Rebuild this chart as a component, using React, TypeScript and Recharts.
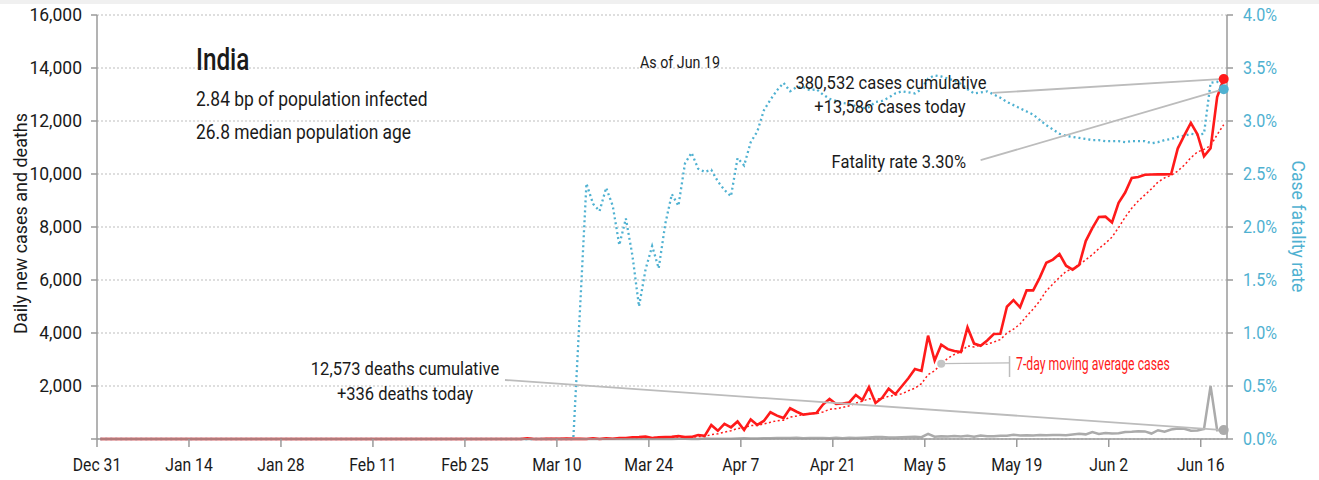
import React from 'react';
import {
  LineChart,
  Line,
  XAxis,
  YAxis,
  CartesianGrid,
  ReferenceLine,
  ReferenceDot,
} from 'recharts';

const FONT = "Roboto, 'Liberation Sans', sans-serif";

// x-axis tick labels (every 14 days starting Dec 31)
const tickLabels = ['Dec 31', 'Jan 14', 'Jan 28', 'Feb 11', 'Feb 25', 'Mar 10', 'Mar 24', 'Apr 7', 'Apr 21', 'May 5', 'May 19', 'Jun 2', 'Jun 16'];
const tickDays = [0, 14, 28, 42, 56, 70, 84, 98, 112, 126, 140, 154, 168];

const leftTicks = [0, 2000, 4000, 6000, 8000, 10000, 12000, 14000, 16000];
const rightTicks = [0, 0.5, 1, 1.5, 2, 2.5, 3, 3.5, 4];

// daily new cases, Dec 31 .. Jun 19
const cases = [
  0, 0, 0, 0, 0, 0, 0, 0, 0, 0,
  0, 0, 0, 0, 0, 0, 0, 0, 0, 0,
  0, 0, 0, 0, 0, 0, 0, 0, 0, 0,
  1, 0, 0, 1, 1, 0, 0, 0, 0, 0,
  0, 0, 0, 0, 0, 0, 0, 0, 0, 0,
  0, 0, 0, 0, 0, 0, 0, 0, 0, 0,
  0, 0, 1, 2, 1, 22, 2, 1, 3, 5,
  4, 13, 6, 11, 2, 26, 3, 23, 11, 39,
  40, 60, 70, 95, 40, 60, 70, 80, 115, 70,
  80, 150, 120, 530, 310, 570, 440, 660, 340, 740,
  530, 680, 1010, 880, 790, 1160, 1030, 920, 950, 980,
  1300, 1510, 1320, 1340, 1380, 1660, 1470, 1960, 1360, 1550,
  1900, 1690, 1990, 2290, 2640, 2570, 3900, 2960, 3560, 3390,
  3320, 3280, 4210, 3600, 3520, 3720, 3960, 3970, 4990, 5240,
  4970, 5610, 5610, 6090, 6650, 6770, 6980, 6540, 6390, 6570,
  7470, 7960, 8380, 8390, 8170, 8910, 9300, 9850, 9890, 9970,
  9980, 9990, 9985, 10000, 10960, 11460, 11930, 11500, 10670, 10970,
  12900, 13586,
];

// 7-day moving average of cases
const movingAvg = [
  0, 0, 0, 0, 0, 0, 0, 0, 0, 0,
  0, 0, 0, 0, 0, 0, 0, 0, 0, 0,
  0, 0, 0, 0, 0, 0, 0, 0, 0, 0,
  0, 0, 0, 0, 0, 0, 0, 0, 0, 0,
  0, 0, 0, 0, 0, 0, 0, 0, 0, 0,
  0, 0, 0, 0, 0, 0, 0, 0, 0, 0,
  0, 0, 0, 0, 1, 4, 4, 4, 4, 5,
  5, 7, 5, 6, 6, 9, 9, 12, 12, 16,
  21, 29, 35, 48, 51, 58, 62, 68, 76, 76,
  74, 89, 98, 164, 196, 261, 314, 397, 424, 513,
  513, 566, 629, 691, 710, 827, 869, 924, 963, 959,
  1019, 1121, 1144, 1189, 1254, 1356, 1426, 1520, 1499, 1531,
  1611, 1656, 1703, 1820, 1917, 2090, 2426, 2577, 2844, 3044,
  3191, 3283, 3517, 3474, 3554, 3577, 3659, 3751, 3996, 4143,
  4339, 4637, 4907, 5211, 5594, 5849, 6097, 6321, 6433, 6570,
  6767, 6954, 7184, 7386, 7619, 7979, 8369, 8709, 8984, 9211,
  9439, 9699, 9852, 9952, 10111, 10335, 10615, 10832, 10929, 11070,
  11484, 11859,
];

// daily new deaths
const deaths = [
  0, 0, 0, 0, 0, 0, 0, 0, 0, 0,
  0, 0, 0, 0, 0, 0, 0, 0, 0, 0,
  0, 0, 0, 0, 0, 0, 0, 0, 0, 0,
  0, 0, 0, 0, 0, 0, 0, 0, 0, 0,
  0, 0, 0, 0, 0, 0, 0, 0, 0, 0,
  0, 0, 0, 0, 0, 0, 0, 0, 0, 0,
  0, 0, 0, 0, 0, 0, 0, 0, 0, 0,
  0, 0, 0, 1, 1, 0, 0, 1, 0, 1,
  1, 3, 3, 1, 2, 3, 4, 4, 6, 5,
  3, 3, 18, 12, 12, 13, 9, 16, 28, 16,
  23, 31, 33, 40, 38, 34, 51, 28, 36, 38,
  38, 31, 50, 26, 48, 37, 46, 59, 72, 71,
  60, 57, 68, 78, 83, 68, 195, 89, 104, 96,
  115, 97, 122, 87, 134, 103, 100, 120, 120, 157,
  134, 140, 132, 148, 137, 147, 154, 146, 170, 194,
  175, 265, 193, 230, 204, 217, 260, 273, 294, 287,
  206, 331, 279, 357, 396, 386, 311, 325, 380, 2003,
  334, 336,
];

// case fatality rate, percent
const fatalityRate = [
  0, 0, 0, 0, 0, 0, 0, 0, 0, 0,
  0, 0, 0, 0, 0, 0, 0, 0, 0, 0,
  0, 0, 0, 0, 0, 0, 0, 0, 0, 0,
  0, 0, 0, 0, 0, 0, 0, 0, 0, 0,
  0, 0, 0, 0, 0, 0, 0, 0, 0, 0,
  0, 0, 0, 0, 0, 0, 0, 0, 0, 0,
  0, 0, 0, 0, 0, 0, 0, 0, 0, 0,
  0, 0, 0, 1.2, 2.41, 2.22, 2.15, 2.37, 2.2, 1.83,
  2.08, 1.73, 1.25, 1.6, 1.82, 1.61, 2.03, 2.31, 2.2, 2.6,
  2.7, 2.55, 2.52, 2.54, 2.43, 2.35, 2.29, 2.65, 2.58, 2.8,
  2.9, 3.1, 3.2, 3.29, 3.36, 3.28, 3.32, 3.32, 3.29, 3.3,
  3.25, 3.21, 3.19, 3.17, 3.16, 3.14, 3.12, 3.13, 3.18, 3.19,
  3.22, 3.26, 3.28, 3.27, 3.26, 3.3, 3.4, 3.43, 3.42, 3.4,
  3.38, 3.35, 3.3, 3.26, 3.27, 3.28, 3.25, 3.22, 3.18, 3.15,
  3.12, 3.09, 3.06, 3.01, 2.96, 2.92, 2.88, 2.86, 2.85, 2.84,
  2.83, 2.82, 2.82, 2.81, 2.81, 2.81, 2.8, 2.81, 2.81, 2.81,
  2.79, 2.8, 2.82, 2.83, 2.85, 2.86, 2.88, 2.87, 2.88, 3.36,
  3.37, 3.3,
];

const data = cases.map((c, i) => ({
  x: i + 0.5,
  cases: c,
  ma: movingAvg[i],
  deaths: deaths[i],
  cfr: fatalityRate[i],
}));

const last = cases.length - 1;
const lastX = last + 0.5;
const MA_MARK = 128;

const RED = '#ff1a1a';
const BLUE = '#4fb1d1';
const GRAY = '#ababab';
const AXIS = '#9a9a9a';
const INK = '#1a1a1a';
const LEADER = '#bcbcbc';

// Condensed text: real SVG text, horizontally narrowed to imitate a condensed face
function CText(props: {
  x: number;
  y: number;
  size: number;
  sx: number;
  anchor?: 'start' | 'middle' | 'end';
  fill?: string;
  rotate?: number;
  dy?: string;
  weight?: number;
  children: React.ReactNode;
}) {
  const { x, y, size, sx, anchor = 'start', fill = INK, rotate = 0, dy, weight, children } = props;
  return (
    <text
      transform={`translate(${x},${y}) rotate(${rotate}) scale(${sx},1)`}
      fontSize={size}
      fontFamily={FONT}
      fontWeight={weight}
      textAnchor={anchor}
      fill={fill}
      dy={dy}
    >
      {children}
    </text>
  );
}

function makeTick(format: (v: number) => string, fill: string, sx: number, size: number, dy: string) {
  return (p: any) => {
    const label = format(p.payload.value);
    if (!label) return <g />;
    return (
      <CText x={p.x} y={p.y} size={size} sx={sx} anchor={p.textAnchor} fill={fill} dy={dy}>
        {label}
      </CText>
    );
  };
}

const xTick = makeTick((v) => tickLabels[Math.round(v / 14)], INK, 0.9, 17.5, '0.71em');
const leftTick = makeTick((v) => (v === 0 ? '' : v.toLocaleString('en-US')), INK, 1.0, 17.5, '0.355em');
const rightTick = makeTick((v) => v.toFixed(1) + '%', BLUE, 0.92, 17.5, '0.355em');

export default function App() {
  return (
    <div
      style={{
        position: 'absolute',
        left: 0,
        top: 0,
        width: 1319,
        height: 480,
        background: '#ffffff',
        fontFamily: FONT,
        overflow: 'hidden',
      }}
    >
      <div style={{ position: 'absolute', left: 0, top: 0, width: 1319, height: 4, background: '#f0f0f0' }} />
      <LineChart width={1319} height={480} data={data} margin={{ top: 15, right: 0, bottom: 0, left: 0 }}>
        <CartesianGrid yAxisId="left" vertical={false} stroke="#bdbdbd" strokeDasharray="2 2" />
        <XAxis
          type="number"
          dataKey="x"
          domain={[0, 172]}
          ticks={tickDays}
          interval={0}
          height={41}
          axisLine={{ stroke: AXIS, strokeWidth: 1.5 }}
          tickLine={{ stroke: AXIS, strokeWidth: 1.5 }}
          tickSize={8}
          tickMargin={12}
          tick={xTick}
        />
        <YAxis
          yAxisId="left"
          domain={[0, 16000]}
          ticks={leftTicks}
          interval={0}
          width={97}
          axisLine={{ stroke: AXIS, strokeWidth: 1.5 }}
          tickLine={{ stroke: AXIS, strokeWidth: 1.5 }}
          tickSize={6}
          tickMargin={9}
          tick={leftTick}
        />
        <YAxis
          yAxisId="right"
          orientation="right"
          domain={[0, 4]}
          ticks={rightTicks}
          interval={0}
          width={92}
          axisLine={{ stroke: AXIS, strokeWidth: 1.5 }}
          tickLine={{ stroke: AXIS, strokeWidth: 1.5 }}
          tickSize={6}
          tickMargin={10}
          tick={rightTick}
        />
        <Line yAxisId="left" type="linear" dataKey="deaths" stroke={GRAY} strokeWidth={2.5} dot={false} isAnimationActive={false} />
        <Line yAxisId="right" type="linear" dataKey="cfr" stroke={BLUE} strokeWidth={2.3} strokeDasharray="2 3" dot={false} isAnimationActive={false} />
        <Line yAxisId="left" type="linear" dataKey="ma" stroke={RED} strokeWidth={1.5} strokeDasharray="2 2.5" dot={false} isAnimationActive={false} />
        <Line yAxisId="left" type="linear" dataKey="cases" stroke={RED} strokeWidth={2.6} dot={false} isAnimationActive={false} />

        <ReferenceLine
          yAxisId="left"
          segment={[{ x: 136.3, y: 13060 }, { x: lastX, y: cases[last] }]}
          stroke={LEADER}
          strokeWidth={1.8}
        />
        <ReferenceLine
          yAxisId="right"
          segment={[{ x: 134.5, y: 2.63 }, { x: lastX, y: fatalityRate[last] }]}
          stroke={LEADER}
          strokeWidth={1.8}
        />
        <ReferenceLine
          yAxisId="left"
          segment={[{ x: 62.1, y: 2226 }, { x: lastX, y: deaths[last] }]}
          stroke={LEADER}
          strokeWidth={1.8}
        />
        <ReferenceLine
          yAxisId="left"
          segment={[{ x: MA_MARK + 0.5, y: movingAvg[MA_MARK] }, { x: 138.9, y: 2870 }]}
          stroke={LEADER}
          strokeWidth={1.2}
        />
        <ReferenceLine
          yAxisId="left"
          segment={[{ x: 138.9, y: 2340 }, { x: 138.9, y: 3130 }]}
          stroke={LEADER}
          strokeWidth={1.5}
        />

        <ReferenceDot yAxisId="left" x={MA_MARK + 0.5} y={movingAvg[MA_MARK]} r={4} fill="#c4c4c4" stroke="none" />
        <ReferenceDot yAxisId="left" x={lastX} y={deaths[last]} r={5} fill={GRAY} stroke="none" />
        <ReferenceDot yAxisId="left" x={lastX} y={cases[last]} r={5} fill={RED} stroke="none" />
        <ReferenceDot yAxisId="right" x={lastX} y={fatalityRate[last]} r={5} fill={BLUE} stroke="none" />
      </LineChart>

      <svg
        width={1319}
        height={480}
        style={{ position: 'absolute', left: 0, top: 0, pointerEvents: 'none' }}
      >
        <CText x={26.5} y={223.5} rotate={-90} size={18.5} sx={0.97} anchor="middle">
          Daily new cases and deaths
        </CText>
        <CText x={1292} y={226.5} rotate={90} size={18.5} sx={0.95} anchor="middle" fill={BLUE}>
          Case fatality rate
        </CText>

        <CText x={196} y={70} size={32} sx={0.76} weight={500}>India</CText>
        <CText x={196} y={106} size={20} sx={0.87}>2.84 bp of population infected</CText>
        <CText x={196} y={139} size={20} sx={0.87}>26.8 median population age</CText>

        <CText x={680} y={68} size={17} sx={0.84} anchor="middle">As of Jun 19</CText>

        <CText x={891} y={88.5} size={19} sx={0.87} anchor="middle">380,532 cases cumulative</CText>
        <CText x={890} y={113} size={19} sx={0.87} anchor="middle">+13,586 cases today</CText>
        <CText x={966} y={168} size={19} sx={0.87} anchor="end">Fatality rate 3.30%</CText>

        <CText x={405} y={375} size={19} sx={0.87} anchor="middle">12,573 deaths cumulative</CText>
        <CText x={405} y={400} size={19} sx={0.87} anchor="middle">+336 deaths today</CText>

        <CText x={1016} y={370} size={17.5} sx={0.7} fill={RED}>7-day moving average cases</CText>
      </svg>
    </div>
  );
}
